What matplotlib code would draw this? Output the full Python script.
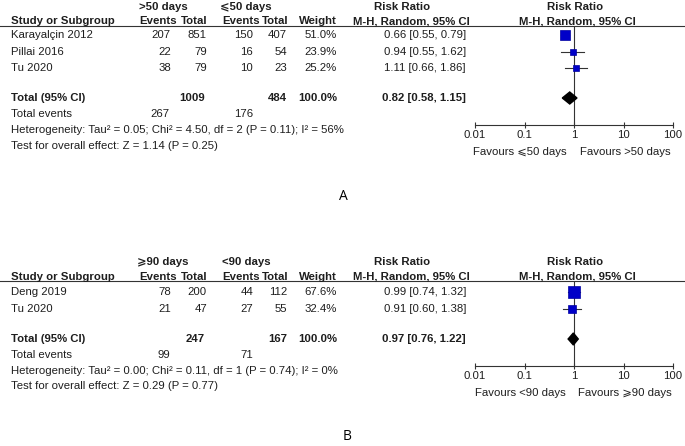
import numpy as np
import matplotlib
matplotlib.use('Agg')
import matplotlib.pyplot as plt

plt.rcParams['font.family'] = ['Liberation Sans', 'DejaVu Sans']

# panel A data
studies_a = ['Karayalçin 2012', 'Pillai 2016', 'Tu 2020']
ev1_a = [207, 22, 38]
tot1_a = [851, 79, 79]
ev2_a = [150, 16, 10]
tot2_a = [407, 54, 23]
weight_a = [51.0, 23.9, 25.2]
rr_a = [0.66, 0.94, 1.11]
lo_a = [0.55, 0.55, 0.66]
hi_a = [0.79, 1.62, 1.86]
total_a = [1009, 484]
events_a = [267, 176]
pooled_a = [0.82, 0.58, 1.15]
groups_a = ['>50 days', '⩽50 days']
favours_a = ['Favours ⩽50 days', 'Favours >50 days']
het_a = 'Heterogeneity: Tau² = 0.05; Chi² = 4.50, df = 2 (P = 0.11); I² = 56%'
test_a = 'Test for overall effect: Z = 1.14 (P = 0.25)'

# panel B data
studies_b = ['Deng 2019', 'Tu 2020']
ev1_b = [78, 21]
tot1_b = [200, 47]
ev2_b = [44, 27]
tot2_b = [112, 55]
weight_b = [67.6, 32.4]
rr_b = [0.99, 0.91]
lo_b = [0.74, 0.60]
hi_b = [1.32, 1.38]
total_b = [247, 167]
events_b = [99, 71]
pooled_b = [0.97, 0.76, 1.22]
groups_b = ['⩾90 days', '<90 days']
favours_b = ['Favours <90 days', 'Favours ⩾90 days']
het_b = 'Heterogeneity: Tau² = 0.00; Chi² = 0.11, df = 1 (P = 0.74); I² = 0%'
test_b = 'Test for overall effect: Z = 0.29 (P = 0.77)'

ticks = [0.01, 0.1, 1, 10, 100]
tick_labels = ['0.01', '0.1', '1', '10', '100']

W, H = 685, 446
fig = plt.figure(figsize=(W / 100, H / 100), dpi=100)
bg = fig.add_axes([0, 0, 1, 1])
bg.set_xlim(0, W)
bg.set_ylim(H, 0)
bg.axis('off')

fs = 8.2
col = '#1e1e1e'


def txt(x, y, s, ha='left', bold=False):
    bg.text(x, y, s, ha=ha, va='center', fontsize=fs, color=col,
            fontweight='bold' if bold else 'normal')


def panel(y_head, y_line, rows_y, y_total, y_ev, y_het, y_test, y_axis,
          studies, ev1, tot1, ev2, tot2, weight, rr, lo, hi,
          total, events, pooled, groups, favours, het, test):
    # header
    txt(163, y_head, groups[0], ha='center', bold=True)
    txt(246, y_head, groups[1], ha='center', bold=True)
    txt(402, y_head, 'Risk Ratio', ha='center', bold=True)
    txt(575, y_head, 'Risk Ratio', ha='center', bold=True)
    y2 = y_line - 4.5
    txt(11, y2, 'Study or Subgroup', bold=True)
    txt(177, y2, 'Events', ha='right', bold=True)
    txt(208, y2, 'Total', ha='right', bold=True)
    txt(260, y2, 'Events', ha='right', bold=True)
    txt(289, y2, 'Total', ha='right', bold=True)
    txt(337, y2, 'Weight', ha='right', bold=True)
    txt(411, y2, 'M-H, Random, 95% CI', ha='center', bold=True)
    txt(577, y2, 'M-H, Random, 95% CI', ha='center', bold=True)
    bg.plot([0, W], [y_line, y_line], color='#333333', lw=0.8)

    for i, y in enumerate(rows_y):
        txt(11, y, studies[i])
        txt(171, y, str(ev1[i]), ha='right')
        txt(207, y, str(tot1[i]), ha='right')
        txt(253, y, str(ev2[i]), ha='right')
        txt(287, y, str(tot2[i]), ha='right')
        txt(337, y, f'{weight[i]:.1f}%', ha='right')
        txt(466, y, f'{rr[i]:.2f} [{lo[i]:.2f}, {hi[i]:.2f}]', ha='right')

    txt(11, y_total, 'Total (95% CI)', bold=True)
    txt(205, y_total, str(total[0]), ha='right', bold=True)
    txt(287, y_total, str(total[1]), ha='right', bold=True)
    txt(337, y_total, '100.0%', ha='right', bold=True)
    txt(466, y_total, f'{pooled[0]:.2f} [{pooled[1]:.2f}, {pooled[2]:.2f}]', ha='right', bold=True)
    txt(11, y_ev, 'Total events')
    txt(170, y_ev, str(events[0]), ha='right')
    txt(253, y_ev, str(events[1]), ha='right')
    txt(11, y_het, het)
    txt(11, y_test, test)

    # forest plot axes, y in pixel units
    x0, x1 = 475, 673
    ax = fig.add_axes([x0 / W, 1 - y_axis / H, (x1 - x0) / W, (y_axis - y_line) / H])
    ax.set_xscale('log')
    ax.set_xlim(0.01, 100)
    ax.set_ylim(y_axis, y_line)
    ax.patch.set_visible(False)
    for s in ['top', 'left', 'right']:
        ax.spines[s].set_visible(False)
    ax.spines['bottom'].set_color('#333333')
    ax.spines['bottom'].set_linewidth(0.8)
    ax.set_yticks([])
    ax.set_xticks(ticks)
    ax.set_xticklabels(tick_labels)
    ax.minorticks_off()
    ax.tick_params(axis='x', direction='inout', length=5, width=0.8, color='#333333',
                   labelsize=fs, labelcolor=col, pad=1)
    ax.axvline(1, color='#333333', lw=0.8)

    for i, y in enumerate(rows_y):
        ax.plot([lo[i], hi[i]], [y, y], color='#333333', lw=0.8, zorder=2)
        ax.plot(rr[i], y, marker='s', markersize=np.sqrt(weight[i]),
                color='#0000c8', markeredgecolor='#0000a0', markeredgewidth=0.5, zorder=3)
    dh = 6
    ax.fill([pooled[1], pooled[0], pooled[2], pooled[0]],
            [y_total, y_total - dh, y_total, y_total + dh], color='black', zorder=3)

    txt(520, y_axis + 27, favours[0], ha='center')
    txt(625, y_axis + 27, favours[1], ha='center')


panel(7, 26, [35, 52, 68], 98, 114, 130, 146, 125,
      studies_a, ev1_a, tot1_a, ev2_a, tot2_a, weight_a, rr_a, lo_a, hi_a,
      total_a, events_a, pooled_a, groups_a, favours_a, het_a, test_a)
panel(262, 281, [292, 309], 339, 355, 371, 386, 366,
      studies_b, ev1_b, tot1_b, ev2_b, tot2_b, weight_b, rr_b, lo_b, hi_b,
      total_b, events_b, pooled_b, groups_b, favours_b, het_b, test_b)

bg.text(343, 196, 'A', ha='center', va='center', fontsize=10, color='black',
        family=['Open Sans', 'DejaVu Sans'])
bg.text(347, 437, 'B', ha='center', va='center', fontsize=10, color='black',
        family=['Open Sans', 'DejaVu Sans'])

fig.savefig('out.png', dpi=100)
